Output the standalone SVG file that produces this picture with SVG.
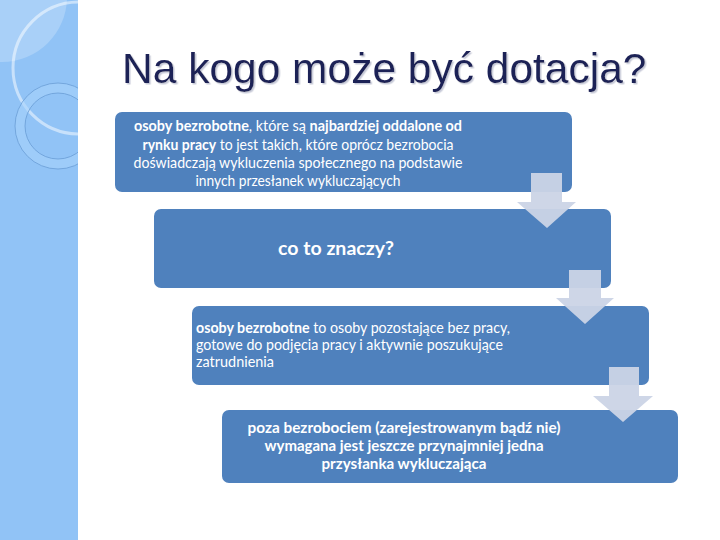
<svg xmlns="http://www.w3.org/2000/svg" width="720" height="540" viewBox="0 0 720 540">
<defs>
<style>
.box{fill:#4f81bd;}
.arrow{fill:#cbd4e6;opacity:0.95;}
.t{font-family:Lato,"Open Sans","Liberation Sans",sans-serif;font-size:15px;fill:#ffffff;}
.b{font-weight:bold;}
.title{font-family:"Liberation Sans",Arial,sans-serif;font-size:42.5px;fill:#1e2157;}
</style>
<filter id="shadow" x="-5%" y="-20%" width="110%" height="140%">
<feDropShadow dx="1.5" dy="1.5" stdDeviation="0.6" flood-color="#b8bccd" flood-opacity="0.8"/>
</filter>
<clipPath id="side"><rect x="0" y="0" width="78" height="540"/></clipPath>
</defs>
<rect x="0" y="0" width="720" height="540" fill="#ffffff"/>
<g id="sidebar" clip-path="url(#side)">
<rect x="0" y="0" width="78" height="540" fill="#91c3f6"/>
<circle cx="2" cy="-3" r="65" fill="#ffffff" opacity="0.22"/>
<circle cx="79" cy="68" r="66" fill="none" stroke="#ffffff" stroke-opacity="0.5" stroke-width="3"/>
<path d="M58 83 A43 43 0 1 1 57.99 83 Z M58 93 A33 33 0 1 0 58.01 93 Z" fill="#a6d2fb" fill-rule="evenodd" opacity="0.6"/>
<circle cx="58" cy="126" r="43" fill="none" stroke="#6a9dd6" stroke-width="0.8"/>
<circle cx="58" cy="126" r="33" fill="none" stroke="#6a9dd6" stroke-width="0.8"/>
</g>
<g id="title">
<text class="title" x="122" y="83" filter="url(#shadow)">Na kogo może być dotacja?</text>
</g>
<g id="node1">
<rect class="box" x="115" y="112" width="457" height="80" rx="7"/>
<text class="t" x="298" y="131" text-anchor="middle" textLength="328" lengthAdjust="spacingAndGlyphs"><tspan class="b">osoby bezrobotne</tspan>, które są <tspan class="b">najbardziej oddalone od</tspan></text>
<text class="t" x="298" y="149.5" text-anchor="middle" textLength="311" lengthAdjust="spacingAndGlyphs"><tspan class="b">rynku pracy</tspan> to jest takich, które oprócz bezrobocia</text>
<text class="t" x="298" y="168" text-anchor="middle" textLength="329" lengthAdjust="spacingAndGlyphs">doświadczają wykluczenia społecznego na podstawie</text>
<text class="t" x="298" y="186" text-anchor="middle" textLength="205" lengthAdjust="spacingAndGlyphs">innych przesłanek wykluczających</text>
</g>
<g id="node2">
<rect class="box" x="154" y="209" width="457" height="79" rx="7"/>
<text class="t b" x="336" y="255" text-anchor="middle" style="font-size:18px" textLength="116" lengthAdjust="spacingAndGlyphs">co to znaczy?</text>
</g>
<g id="node3">
<rect class="box" x="192" y="306" width="457" height="79" rx="7"/>
<text class="t" x="196" y="333" textLength="314" lengthAdjust="spacingAndGlyphs"><tspan class="b">osoby bezrobotne</tspan> to osoby pozostające bez pracy,</text>
<text class="t" x="196" y="350" textLength="307" lengthAdjust="spacingAndGlyphs">gotowe do podjęcia pracy i aktywnie poszukujące</text>
<text class="t" x="196" y="367" textLength="78" lengthAdjust="spacingAndGlyphs">zatrudnienia</text>
</g>
<g id="node4">
<rect class="box" x="222" y="410" width="456" height="73" rx="7"/>
<text class="t b" x="404" y="433" text-anchor="middle" textLength="313" lengthAdjust="spacingAndGlyphs">poza bezrobociem (zarejestrowanym bądź nie)</text>
<text class="t b" x="404" y="451" text-anchor="middle" textLength="279" lengthAdjust="spacingAndGlyphs">wymagana jest jeszcze przynajmniej jedna</text>
<text class="t b" x="404" y="469" text-anchor="middle" textLength="165" lengthAdjust="spacingAndGlyphs">przysłanka wykluczająca</text>
</g>
<g id="connectors">
<path class="arrow" d="M531 173 H562 V202 H576 L547 228 L517 202 H531 Z"/>
<path class="arrow" d="M569 270 H601 V298 H614 L585 324 L556 298 H569 Z"/>
<path class="arrow" d="M609 367 H639 V396 H653 L623 422 L593 396 H609 Z"/>
</g>
</svg>
